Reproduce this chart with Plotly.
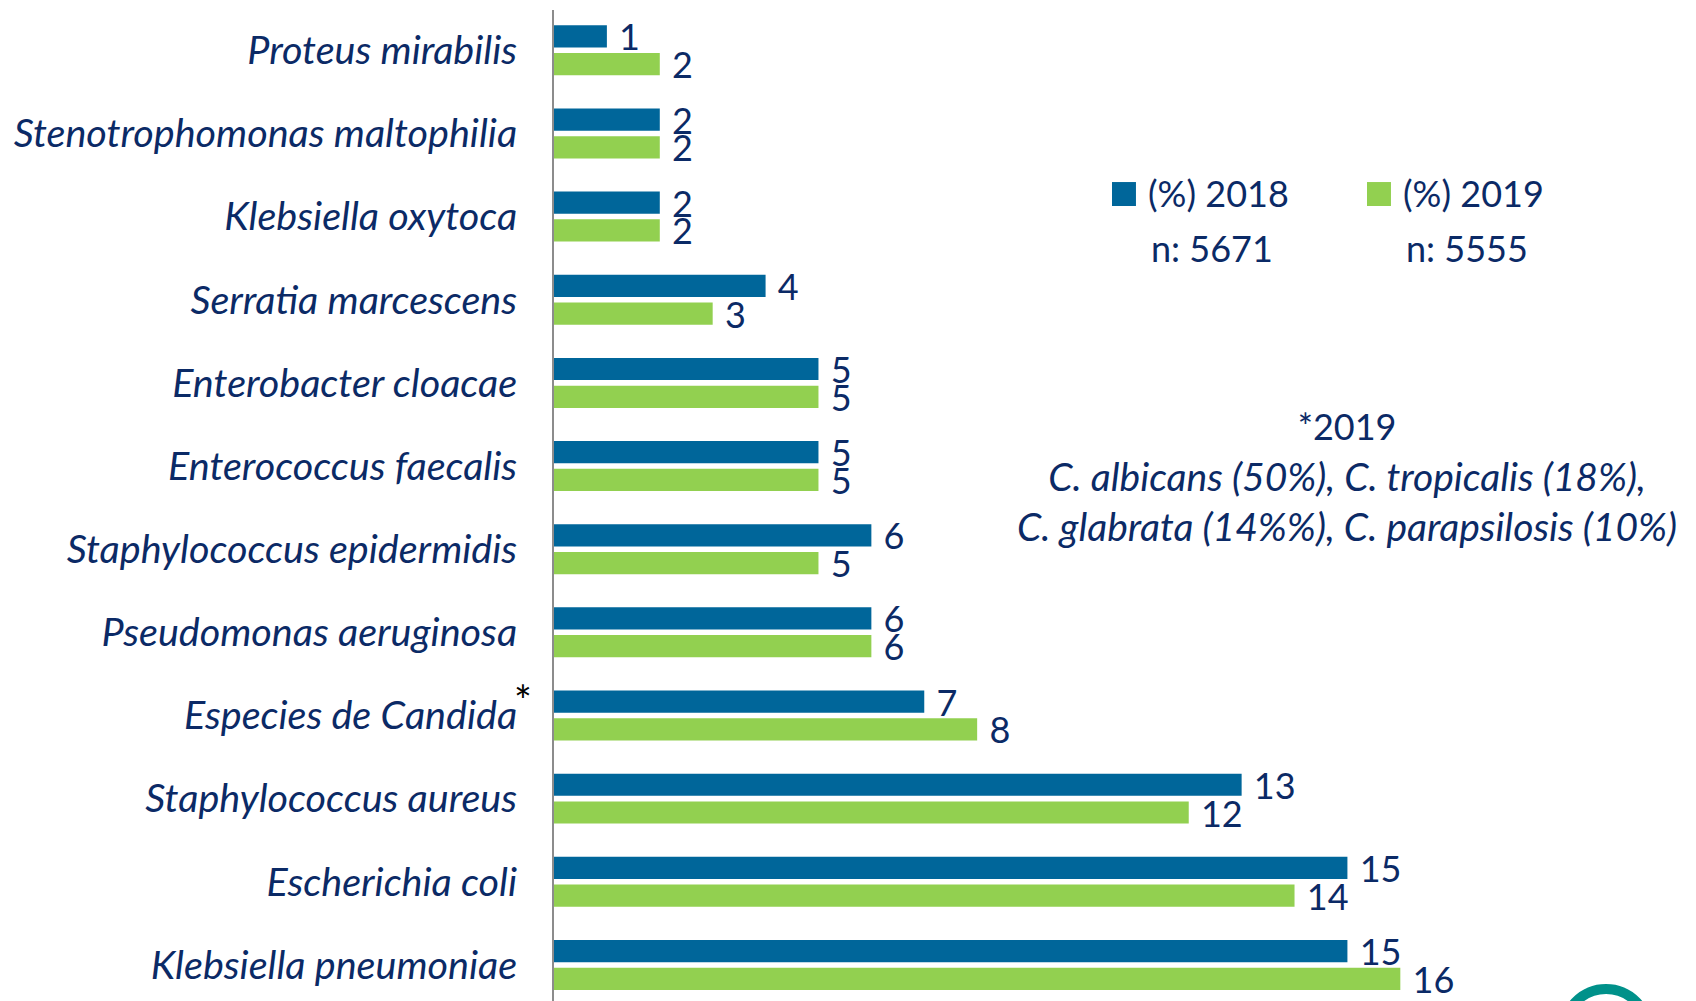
"""Microorganismos aislados 2018 vs 2019 - horizontal grouped bars."""

import plotly.graph_objects as go

# categories, top to bottom
species = [
    "Proteus mirabilis",
    "Stenotrophomonas maltophilia",
    "Klebsiella oxytoca",
    "Serratia marcescens",
    "Enterobacter cloacae",
    "Enterococcus faecalis",
    "Staphylococcus epidermidis",
    "Pseudomonas aeruginosa",
    "Especies de Candida",
    "Staphylococcus aureus",
    "Escherichia coli",
    "Klebsiella pneumoniae",
]
pct_2018 = [1, 2, 2, 4, 5, 5, 6, 6, 7, 13, 15, 15]
pct_2019 = [2, 2, 2, 3, 5, 5, 5, 6, 8, 12, 14, 16]

series_names = ["(%) 2018", "(%) 2019"]
series_n = ["n: 5671", "n: 5555"]
candida_note = [
    "*2019",
    "C. albicans (50%), C. tropicalis (18%),",
    "C. glabrata (14%%), C. parapsilosis (10%)",
]

BLUE = "#00669A"
GREEN = "#92D050"
NAVY = "#0B2A66"
FONT = "Lato"
FS = 36          # upright text
FS_IT = 39.5     # italic text (Lato italic runs narrow)

fig = go.Figure()
for name, values, color in [(series_names[0], pct_2018, BLUE), (series_names[1], pct_2019, GREEN)]:
    fig.add_trace(go.Bar(
        y=species,
        x=values,
        orientation="h",
        name=name,
        marker=dict(color=color, line=dict(width=0)),
        text=values,
        texttemplate="&nbsp;%{x}",
        textposition="outside",
        constraintext="none",
        cliponaxis=False,
        textfont=dict(family=FONT, size=FS, color=NAVY),
        showlegend=False,
    ))

# hand-drawn legend: big square swatches, label and sample size under it
legend_x = [0.4886, 0.7119]
for i, color in enumerate([BLUE, GREEN]):
    x0 = legend_x[i]
    fig.add_shape(type="rect", xref="paper", yref="paper",
                  x0=x0, x1=x0 + 0.021, y0=0.8022, y1=0.8264,
                  fillcolor=color, line=dict(width=0))
    fig.add_annotation(xref="paper", yref="paper", x=x0 + 0.0298, y=0.8158,
                       xanchor="left", yanchor="middle", showarrow=False,
                       text=series_names[i], font=dict(family=FONT, size=FS, color=NAVY))
    fig.add_annotation(xref="paper", yref="paper", x=x0 + 0.0325, y=0.7601,
                       xanchor="left", yanchor="middle", showarrow=False,
                       text=series_n[i], font=dict(family=FONT, size=FS, color=NAVY))

# footnote about Candida species
note = (f"<span style='font-size:{FS}px'>{candida_note[0]}</span><br>"
        + "<br>".join(f"<i>{line}</i>" for line in candida_note[1:]))
fig.add_annotation(xref="paper", yref="paper", x=0.6944, y=0.5288,
                   xanchor="center", yanchor="middle", align="center", showarrow=False,
                   text=note, font=dict(family=FONT, size=39, color=NAVY))

# asterisk next to the Candida label
fig.add_annotation(xref="paper", yref="y", x=0, y="Especies de Candida",
                   xshift=-42, yshift=15, showarrow=False, text="*",
                   font=dict(family=FONT, size=42, color="black"))

# logo fragment peeking in at the bottom right
fig.add_shape(type="circle", xref="paper", yref="paper",
              x0=0.8844, x1=0.9580, y0=-0.0727, y1=0.0121,
              line=dict(color="#00918A", width=10))

fig.update_layout(
    width=1696,
    height=1001,
    margin=dict(l=554, r=0, t=10, b=0),
    plot_bgcolor="white",
    paper_bgcolor="white",
    barmode="group",
    bargap=0.332,
    bargroupgap=0.2,
    font=dict(family=FONT, size=FS, color=NAVY),
)
fig.update_xaxes(range=[0, 21.59], visible=False, showgrid=False, zeroline=False)
fig.update_yaxes(
    range=[11.434, -0.4847],
    showline=True, linecolor="#8C8C8C", linewidth=2,
    showgrid=False, zeroline=False, ticks="",
    ticklabelstandoff=27,
    tickfont=dict(family=FONT, size=FS_IT, color=NAVY, style="italic"),
)

# page body margin would push the fixed-size figure off the window
fig.write_html("out.html", config={"displayModeBar": False},
               post_script="document.body.style.margin='0';")
